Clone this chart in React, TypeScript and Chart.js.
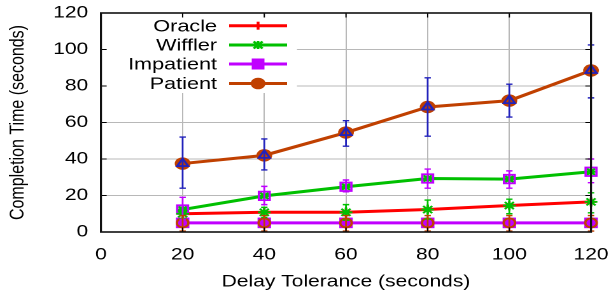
import React, { useEffect, useRef } from "react";
import { Chart, registerables } from "chart.js";
Chart.register(...registerables);

// ---- data ----
const delays = [20, 40, 60, 80, 100, 120];
const xTickValues = [0, 20, 40, 60, 80, 100, 120];
const yTickValues = [0, 20, 40, 60, 80, 100, 120];

const seriesNames = ["Oracle", "Wiffler", "Impatient", "Patient"];

const oracle = [10, 10.8, 10.8, 12.3, 14.5, 16.5];
const oracleLow = [7.5, 8, 6.5, 7, 10, 10.5];
const oracleHigh = [12.5, 13.5, 15, 17.5, 18, 21.5];

const wiffler = [12.3, 19.8, 24.8, 29.3, 29, 33];
const wifflerLow = [7, 15, 22, 24, 24, 27];
const wifflerHigh = [19, 25, 28.5, 34.5, 33.5, 40];

const impatient = [5, 5, 5, 5, 5, 5];
const impatientLow = [0.5, 0.5, 0.5, 0.5, 0.5, 0.5];
const impatientHigh = [9, 9, 9, 9, 9, 9];

const patient = [37.5, 42, 54.5, 68.5, 72, 88.5];
const patientLow = [24, 34, 47, 52.5, 63, 73.5];
const patientHigh = [52, 51, 61, 84.5, 81, 102.5];

// ---- styles ----
const RED = "#ff0000";
const GREEN = "#00c000";
const PURPLE = "#c000ff";
const ORANGE = "#c04000";
const BLUE = "#2222bb";
const FONT = '"Liberation Sans", Arial, sans-serif';

const LOGICAL_W = 480;
const H = 297;

const pairs = (ys: number[]) => delays.map((x, i) => ({ x, y: ys[i] }));

export default function App() {
  const ref = useRef<HTMLCanvasElement>(null);

  useEffect(() => {
    const canvas = ref.current!;

    const errSeries = [
      { low: oracleLow, high: oracleHigh, color: GREEN },
      { low: wifflerLow, high: wifflerHigh, color: PURPLE },
      { low: impatientLow, high: impatientHigh, color: ORANGE },
      { low: patientLow, high: patientHigh, color: BLUE },
    ];

    const errorBars = {
      id: "errorBars",
      afterDatasetsDraw(chart: any) {
        const { ctx, scales } = chart;
        const xs = scales.x;
        const ys = scales.y;
        ctx.save();
        ctx.lineWidth = 1.4;
        for (const s of errSeries) {
          ctx.strokeStyle = s.color;
          for (let i = 0; i < delays.length; i++) {
            const px = xs.getPixelForValue(delays[i]);
            const y1 = ys.getPixelForValue(s.low[i]);
            const y2 = ys.getPixelForValue(s.high[i]);
            ctx.beginPath();
            ctx.moveTo(px, y1);
            ctx.lineTo(px, y2);
            ctx.moveTo(px - 2.5, y1);
            ctx.lineTo(px + 2.5, y1);
            ctx.moveTo(px - 2.5, y2);
            ctx.lineTo(px + 2.5, y2);
            ctx.stroke();
          }
        }
        ctx.restore();
      },
    };

    const legendFrame = {
      id: "legendFrame",
      afterDraw(chart: any) {
        const { ctx, chartArea, scales } = chart;
        const { left, right, top, bottom } = chartArea;
        ctx.save();
        // legend box
        ctx.fillStyle = "#ffffff";
        ctx.fillRect(left + 1.5, top + 1.5, 233.3 - left - 1.5, 93 - top - 1.5);
        const rows = [25.7, 45, 64, 83.5];
        const colors = [RED, GREEN, PURPLE, ORANGE];
        const textX = 170.5;
        const lx1 = 180;
        const lx2 = 225.5;
        const mx = (lx1 + lx2) / 2;
        ctx.font = `17px ${FONT}`;
        ctx.textAlign = "right";
        ctx.textBaseline = "middle";
        rows.forEach((ry, i) => {
          ctx.fillStyle = "#000";
          ctx.fillText(seriesNames[i], textX, ry + 1);
          ctx.strokeStyle = colors[i];
          ctx.fillStyle = colors[i];
          ctx.lineWidth = 3;
          ctx.beginPath();
          ctx.moveTo(lx1, ry);
          ctx.lineTo(lx2, ry);
          ctx.stroke();
          if (i === 0) {
            ctx.lineWidth = 2.2;
            ctx.beginPath();
            ctx.moveTo(mx, ry - 4);
            ctx.lineTo(mx, ry + 4);
            ctx.stroke();
          } else if (i === 1) {
            ctx.lineWidth = 2;
            ctx.beginPath();
            ctx.moveTo(mx - 3.5, ry - 3.5);
            ctx.lineTo(mx + 3.5, ry + 3.5);
            ctx.moveTo(mx + 3.5, ry - 3.5);
            ctx.lineTo(mx - 3.5, ry + 3.5);
            ctx.moveTo(mx, ry - 4);
            ctx.lineTo(mx, ry + 4);
            ctx.stroke();
          } else if (i === 2) {
            ctx.fillRect(mx - 5, ry - 5.5, 10, 11);
          } else {
            ctx.beginPath();
            ctx.arc(mx, ry, 5.8, 0, Math.PI * 2);
            ctx.fill();
          }
        });

        // ticks (mirrored, inside)
        ctx.strokeStyle = "#000";
        ctx.lineWidth = 1;
        const tl = 4.5;
        ctx.beginPath();
        for (const v of xTickValues) {
          const px = scales.x.getPixelForValue(v);
          ctx.moveTo(px, bottom);
          ctx.lineTo(px, bottom - tl);
          ctx.moveTo(px, top);
          ctx.lineTo(px, top + tl);
        }
        for (const v of yTickValues) {
          const py = scales.y.getPixelForValue(v);
          ctx.moveTo(left, py);
          ctx.lineTo(left + tl, py);
          ctx.moveTo(right, py);
          ctx.lineTo(right - tl, py);
        }
        ctx.stroke();

        // frame
        ctx.strokeStyle = "#111";
        ctx.lineWidth = 1.6;
        ctx.strokeRect(left, top, right - left, bottom - top);
        ctx.restore();
      },
    };

    const lineDs = (label: string, ys: number[], color: string, style: any, radius: number, order: number, filled: boolean) => ({
      type: "line",
      label,
      data: pairs(ys),
      borderColor: color,
      backgroundColor: color,
      borderWidth: 3,
      pointStyle: style,
      pointRadius: radius,
      pointBorderWidth: filled ? 0 : 2,
      pointBorderColor: color,
      pointBackgroundColor: color,
      tension: 0,
      clip: false,
      order,
    });

    const overlayDs = (label: string, ys: number[], color: string, style: any, radius: number, order: number) => ({
      type: "line",
      label,
      data: pairs(ys),
      showLine: false,
      borderColor: color,
      backgroundColor: "rgba(0,0,0,0)",
      pointStyle: style,
      pointRadius: radius,
      pointBorderWidth: 1.8,
      pointBorderColor: color,
      pointBackgroundColor: "rgba(0,0,0,0)",
      clip: false,
      order,
    });

    const chart = new Chart(canvas, {
      type: "line",
      data: {
        datasets: [
          overlayDs("Oracle err", oracle, GREEN, "star", 5, 0),
          overlayDs("Wiffler err", wiffler, PURPLE, "rect", 6, 1),
          overlayDs("Impatient err", impatient, ORANGE, "circle", 4.5, 2),
          overlayDs("Patient err", patient, BLUE, "triangle", 5, 3),
          lineDs("Patient", patient, ORANGE, "circle", 6.2, 10, true),
          lineDs("Impatient", impatient, PURPLE, "rect", 7.5, 11, true),
          lineDs("Wiffler", wiffler, GREEN, "star", 4.5, 12, false),
          lineDs("Oracle", oracle, RED, "cross", 4, 13, false),
        ] as any,
      },
      options: {
        responsive: false,
        animation: false,
        devicePixelRatio: 2,
        events: [],
        layout: { padding: { left: 0, right: LOGICAL_W - 464.3, top: 13, bottom: 0 } },
        plugins: { legend: { display: false }, tooltip: { enabled: false } },
        scales: {
          x: {
            type: "linear",
            min: 0,
            max: 120,
            afterBuildTicks: (s: any) => {
              s.ticks = xTickValues.map((v) => ({ value: v }));
            },
            afterFit: (s: any) => {
              s.height = H - 232;
              s.paddingLeft = 0;
              s.paddingRight = 0;
            },
            ticks: { color: "#000", font: { family: FONT, size: 16.5 }, padding: 13, maxRotation: 0, autoSkip: false },
            grid: { color: "#b8b8b8", lineWidth: 1, drawTicks: false },
            border: { display: false },
            title: {
              display: true,
              text: "Delay Tolerance (seconds)",
              color: "#000",
              font: { family: FONT, size: 16.5 },
              padding: { top: 0, bottom: 5 },
            },
          },
          y: {
            type: "linear",
            min: 0,
            max: 120,
            afterBuildTicks: (s: any) => {
              s.ticks = yTickValues.map((v) => ({ value: v }));
            },
            afterFit: (s: any) => {
              s.width = 79.3;
              s.paddingTop = 0;
              s.paddingBottom = 0;
            },
            ticks: { color: "#000", font: { family: FONT, size: 16.5 }, padding: 10, autoSkip: false },
            grid: { color: "#b8b8b8", lineWidth: 1, drawTicks: false },
            border: { display: false },
            title: {
              display: true,
              text: "Completion Time (seconds)",
              color: "#000",
              font: { family: FONT, size: 16 },
              padding: { top: 4.5, bottom: 0 },
            },
          },
        },
      } as any,
      plugins: [errorBars, legendFrame],
    });

    return () => chart.destroy();
  }, []);

  return (
    <div style={{ position: "absolute", left: 0, top: 0, width: 611, height: H, background: "#fff" }}>
      <canvas
        ref={ref}
        width={LOGICAL_W}
        height={H}
        style={{ width: "611px", height: `${H}px`, display: "block" }}
      />
    </div>
  );
}
